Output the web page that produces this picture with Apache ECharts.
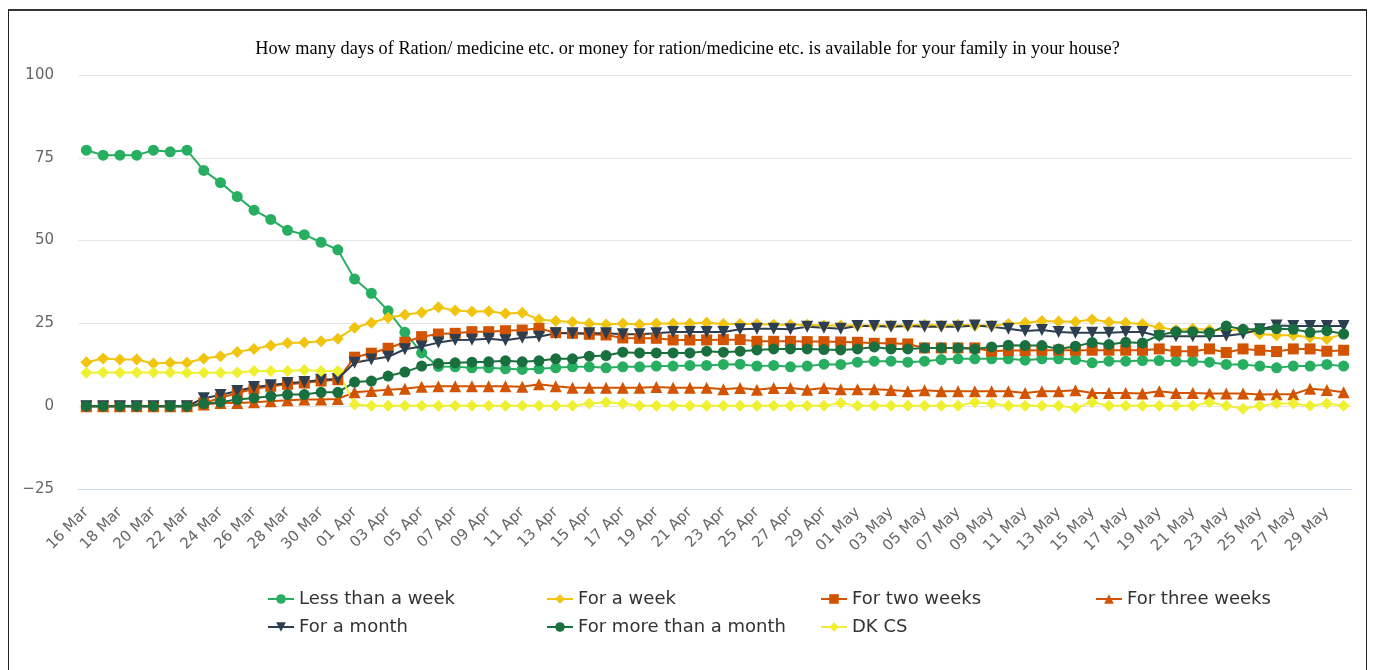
<!DOCTYPE html>
<html>
<head>
<meta charset="utf-8">
<script src="https://cdn.jsdelivr.net/npm/echarts@6/dist/echarts.min.js"></script>
<style>
  html, body { margin: 0; padding: 0; background: #fff; }
  #chart { position: absolute; left: 0; top: 0; width: 1375px; height: 670px; }
  #frame {
    position: absolute; left: 8px; top: 9px; width: 1357px; height: 700px;
    border: 1px solid #222; border-top: 2px solid #333; pointer-events: none;
  }
</style>
</head>
<body>
<div id="chart"></div>
<div id="frame"></div>
<script>
var days = [
  "16 Mar","17 Mar","18 Mar","19 Mar","20 Mar","21 Mar","22 Mar","23 Mar","24 Mar","25 Mar",
  "26 Mar","27 Mar","28 Mar","29 Mar","30 Mar","31 Mar",
  "01 Apr","02 Apr","03 Apr","04 Apr","05 Apr","06 Apr","07 Apr","08 Apr","09 Apr","10 Apr",
  "11 Apr","12 Apr","13 Apr","14 Apr","15 Apr","16 Apr","17 Apr","18 Apr","19 Apr","20 Apr",
  "21 Apr","22 Apr","23 Apr","24 Apr","25 Apr","26 Apr","27 Apr","28 Apr","29 Apr","30 Apr",
  "01 May","02 May","03 May","04 May","05 May","06 May","07 May","08 May","09 May","10 May",
  "11 May","12 May","13 May","14 May","15 May","16 May","17 May","18 May","19 May","20 May",
  "21 May","22 May","23 May","24 May","25 May","26 May","27 May","28 May","29 May","30 May"
];

var lessThanWeek = [
  77.3, 75.8, 75.8, 75.8, 77.3, 76.8, 77.3, 71.2, 67.5, 63.3, 59.2, 56.4, 53.1, 51.8, 49.5, 47.2,
  38.4, 34.1, 28.8, 22.3, 16.1, 12.0, 11.9, 11.6, 11.6, 11.3, 11.1, 11.3, 11.6, 11.9, 11.9, 11.6,
  11.9, 11.9, 12.1, 12.1, 12.3, 12.3, 12.6, 12.7, 12.1, 12.3, 11.9, 12.1, 12.7, 12.6,
  13.3, 13.6, 13.6, 13.3, 13.6, 14.1, 14.3, 14.3, 14.3, 14.3, 13.9, 14.3, 14.3, 14.1, 13.1, 13.6,
  13.6, 13.8, 13.8, 13.6, 13.6, 13.3, 12.6, 12.6, 12.1, 11.6, 12.1, 12.1, 12.6, 12.1
];
var forWeek = [
  13.3, 14.4, 14.1, 14.1, 12.9, 13.1, 13.1, 14.4, 15.1, 16.4, 17.3, 18.3, 19.1, 19.2, 19.6, 20.4,
  23.7, 25.2, 26.7, 27.6, 28.3, 29.9, 28.9, 28.6, 28.7, 28.0, 28.2, 26.2, 25.7, 25.4, 25.0, 24.7,
  25.0, 24.7, 25.0, 25.0, 25.0, 25.2, 24.8, 24.8, 24.8, 24.6, 24.6, 24.6, 24.4, 24.4,
  24.4, 24.4, 24.4, 24.4, 24.6, 24.4, 24.6, 24.4, 24.4, 24.8, 25.2, 25.7, 25.6, 25.5, 26.2, 25.4,
  25.2, 24.8, 23.8, 23.0, 23.4, 23.0, 22.9, 23.1, 21.8, 21.4, 21.4, 20.8, 20.3, 21.9
];
var twoWeeks = [
  0, 0, 0, 0, 0, 0, 0, 1.0, 2.5, 4.0, 5.2, 6.0, 6.6, 7.0, 7.6, 8.0,
  14.8, 16.0, 17.5, 19.3, 21.0, 21.8, 22.0, 22.5, 22.5, 22.8, 23.0, 23.5, 22.2, 22.0, 21.7, 21.5,
  20.6, 20.5, 20.5, 20.0, 20.0, 20.0, 20.1, 20.1, 19.6, 19.6, 19.6, 19.5, 19.5, 19.4,
  19.3, 19.0, 19.0, 18.8, 17.6, 17.6, 17.6, 17.6, 16.6, 16.8, 16.8, 16.9, 16.9, 16.9, 16.9, 16.9,
  16.9, 16.9, 17.3, 16.6, 16.6, 17.3, 16.2, 17.3, 16.9, 16.5, 17.3, 17.3, 16.6, 16.9
];
var threeWeeks = [
  0, 0, 0, 0, 0, 0, 0, 0.5, 1.0, 1.0, 1.2, 1.5, 1.8, 2.0, 2.0, 2.2,
  4.2, 4.6, 5.0, 5.3, 5.9, 6.0, 6.0, 6.0, 6.0, 6.0, 5.9, 6.6, 6.0, 5.6, 5.6, 5.6,
  5.6, 5.6, 5.8, 5.6, 5.6, 5.6, 5.1, 5.5, 5.0, 5.5, 5.5, 5.0, 5.5, 5.1,
  5.1, 5.1, 4.9, 4.5, 4.8, 4.5, 4.5, 4.5, 4.5, 4.5, 4.0, 4.5, 4.5, 4.8, 4.0, 4.0,
  4.0, 3.8, 4.5, 4.0, 4.0, 3.8, 3.8, 3.8, 3.5, 3.6, 3.6, 5.3, 4.9, 4.2
];
var forMonth = [
  0, 0, 0, 0, 0, 0, 0, 2.4, 3.4, 4.6, 5.8, 6.3, 7.0, 7.3, 8.0, 8.2,
  13.1, 14.1, 14.9, 17.2, 18.0, 19.2, 20.0, 20.1, 20.4, 19.9, 20.7, 21.0, 22.0, 22.0, 22.0, 22.0,
  21.7, 21.7, 22.0, 22.4, 22.4, 22.4, 22.4, 23.2, 23.4, 23.4, 23.2, 24.0, 23.7, 23.4,
  24.2, 24.2, 24.0, 24.2, 24.0, 24.0, 24.0, 24.4, 24.0, 23.4, 22.7, 23.0, 22.4, 22.2, 22.2, 22.2,
  22.4, 22.4, 21.1, 21.1, 21.1, 21.1, 21.3, 21.9, 23.2, 24.4, 24.2, 24.2, 24.2, 24.2
];
var moreThanMonth = [
  0, 0, 0, 0, 0, 0, 0, 0.8, 1.2, 2.0, 2.5, 3.0, 3.5, 3.5, 4.2, 4.2,
  7.3, 7.6, 9.1, 10.3, 12.1, 12.9, 13.1, 13.3, 13.4, 13.7, 13.4, 13.7, 14.3, 14.3, 15.1, 15.3,
  16.3, 16.1, 16.1, 16.1, 16.1, 16.6, 16.3, 16.6, 17.0, 17.3, 17.3, 17.3, 17.1, 17.0,
  17.3, 17.9, 17.3, 17.3, 17.6, 17.6, 17.6, 17.3, 17.9, 18.4, 18.3, 18.3, 17.3, 18.1, 19.2, 18.6,
  19.3, 19.1, 21.5, 22.5, 22.5, 22.2, 24.2, 23.2, 23.2, 23.4, 23.2, 22.3, 22.8, 21.8
];
var dkCs = [
  10.1, 10.2, 10.2, 10.2, 10.2, 10.2, 10.1, 10.1, 10.1, 10.2, 10.6, 10.6, 10.6, 10.9, 10.6, 10.6,
  0.5, 0.1, 0.1, 0.1, 0.1, 0.1, 0.1, 0.1, 0.1, 0.1, 0.1, 0.1, 0.1, 0.1, 0.8, 1.2,
  0.8, 0.1, 0.1, 0.1, 0.1, 0.1, 0.1, 0.1, 0.1, 0.1, 0.1, 0.1, 0.1, 1.0,
  0.1, 0.1, 0.1, 0.1, 0.1, 0.1, 0.1, 1.2, 0.8, 0.1, 0.1, 0.1, 0.1, -0.5, 1.2, 0.1,
  0.1, 0.1, 0.1, 0.1, 0.1, 1.2, 0.1, -0.8, 0.1, 0.8, 0.8, 0.1, 0.8, 0.1
];

var chart = echarts.init(document.getElementById("chart"));

function line(name, data, color, symbol, size, rotate) {
  return {
    name: name,
    type: "line",
    data: data,
    symbol: symbol,
    symbolSize: size,
    symbolRotate: rotate || 0,
    showAllSymbol: true,
    itemStyle: { color: color },
    lineStyle: { color: color, width: 2 },
    emphasis: { disabled: true }
  };
}

var legendText = { color: "#333", fontSize: 18, fontFamily: "DejaVu Sans", lineHeight: 18 };
function legendCol(left, names) {
  return {
    orient: "vertical",
    left: left,
    top: 585,
    itemWidth: 26,
    itemHeight: 12,
    itemGap: 10,
    data: names,
    textStyle: legendText
  };
}

chart.setOption({
  animation: false,
  title: {
    text: "How many days of Ration/ medicine etc. or money for ration/medicine etc. is available for your family in your house?",
    left: "center",
    top: 35,
    textStyle: {
      fontFamily: "Liberation Serif",
      fontSize: 18.3,
      fontWeight: "normal",
      color: "#000"
    }
  },
  legend: [
    legendCol(262, ["Less than a week", "For a month"]),
    legendCol(541, ["For a week", "For more than a month"]),
    legendCol(815, ["For two weeks", "DK CS"]),
    legendCol(1090, ["For three weeks"])
  ],
  grid: { left: 78, right: 23, top: 75, bottom: 181 },
  xAxis: {
    type: "category",
    data: days,
    boundaryGap: true,
    axisLine: { onZero: false, lineStyle: { color: "#ccd6eb" } },
    axisTick: { show: false },
    axisLabel: {
      interval: 1,
      rotate: 45,
      margin: 21,
      color: "#666",
      fontSize: 15,
      fontFamily: "DejaVu Sans"
    }
  },
  yAxis: {
    type: "value",
    min: -25,
    max: 100,
    interval: 25,
    axisLine: { show: false },
    axisTick: { show: false },
    splitLine: { lineStyle: { color: "#e6e6e6" } },
    axisLabel: {
      margin: 24,
      color: "#666",
      fontSize: 15,
      fontFamily: "DejaVu Sans",
      formatter: function (v) {
        return String(v).replace("-", "\u2212");
      }
    }
  },
  series: [
    line("Less than a week", lessThanWeek, "#27ae60", "circle", 11),
    line("For a week", forWeek, "#f1c40f", "diamond", 12),
    line("For two weeks", twoWeeks, "#d35400", "rect", 11),
    line("For three weeks", threeWeeks, "#d35400", "triangle", 12),
    line("For a month", forMonth, "#2c3e50", "triangle", 12, 180),
    line("For more than a month", moreThanMonth, "#196f3d", "circle", 11),
    line("DK CS", dkCs, "#f0f032", "diamond", 12)
  ]
});
</script>
</body>
</html>
